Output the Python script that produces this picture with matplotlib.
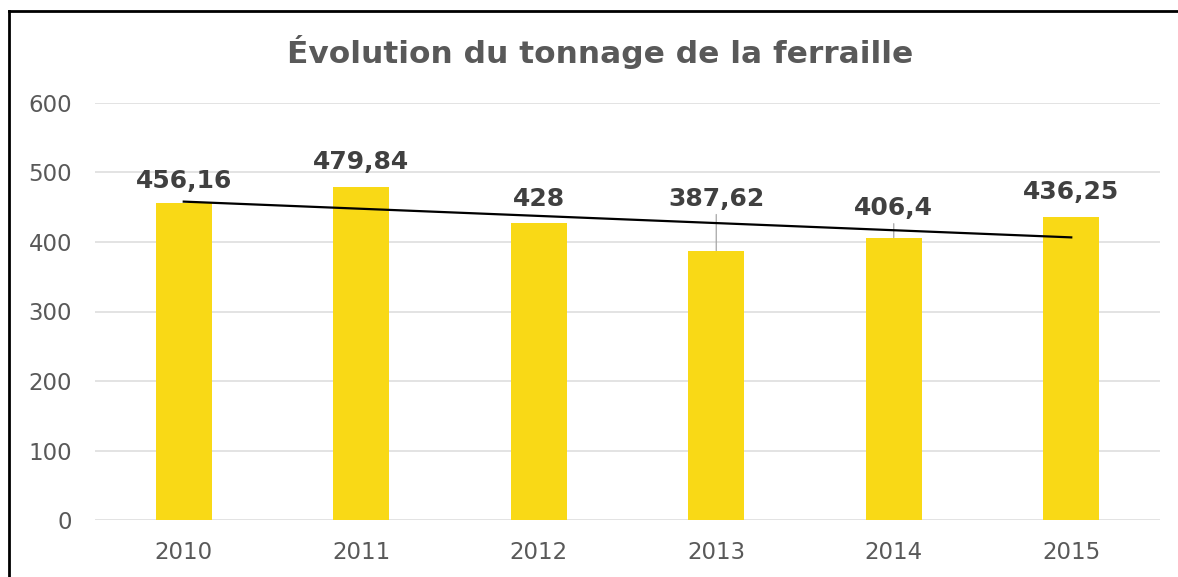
import numpy as np
import matplotlib.pyplot as plt
from matplotlib.lines import Line2D

plt.rcParams['font.family'] = ['DejaVu Sans']

# data
years = ["2010", "2011", "2012", "2013", "2014", "2015"]
tonnage = [456.16, 479.84, 428, 387.62, 406.4, 436.25]
labels = ["456,16", "479,84", "428", "387,62", "406,4", "436,25"]

# label offsets above bar top (points), Excel moved two of them up
label_offsets = [16, 18, 17, 37, 21, 18]
leader = [False, False, False, True, True, False]

fig = plt.figure(figsize=(11.78, 5.77), dpi=100)
ax = fig.add_axes([95 / 1178, 57 / 577, 1065 / 1178, 417 / 577])

x = np.arange(len(years))
ax.bar(x, tonnage, width=0.315, color="#F9D916", zorder=2)

# linear trend line
coef = np.polyfit(x, tonnage, 1)
ax.plot(x, np.polyval(coef, x), color="black", lw=1.6, zorder=3)

for i, (v, lab, off) in enumerate(zip(tonnage, labels, label_offsets)):
    ax.annotate(lab, (i, v), xytext=(0, off), textcoords="offset points",
                ha="center", va="center", fontsize=18, fontweight="bold",
                color="#404040", zorder=4)
    if leader[i]:
        # leader line from label down to the bar
        ax.annotate("", (i, v), xytext=(0, off - 11), textcoords="offset points",
                    arrowprops=dict(arrowstyle="-", color="#A6A6A6", lw=0.9,
                                    shrinkA=0, shrinkB=0), zorder=1)

ax.set_xlim(-0.5, len(years) - 0.5)
ax.set_ylim(0, 600)
ax.set_yticks(range(0, 601, 100))
ax.set_xticks(x)
ax.set_xticklabels(years)
ax.grid(axis="y", color="#DEDEDE", lw=1.2, zorder=0)
ax.set_axisbelow(True)
for s in ax.spines.values():
    s.set_visible(False)
ax.tick_params(length=0, labelsize=16.5, labelcolor="#595959")
ax.tick_params(axis="y", pad=16.5)
ax.tick_params(axis="x", pad=15)

fig.text(600 / 1178, 1 - 52 / 577, "Évolution du tonnage de la ferraille",
         ha="center", va="center", fontsize=22.5, fontweight="bold", color="#595959")

# black border at left and top
fig.add_artist(Line2D([9 / 1178, 9 / 1178], [0, 1 - 11 / 577], color="black", lw=2))
fig.add_artist(Line2D([9 / 1178, 1], [1 - 11 / 577, 1 - 11 / 577], color="black", lw=2))

fig.savefig("out.png", dpi=100)
